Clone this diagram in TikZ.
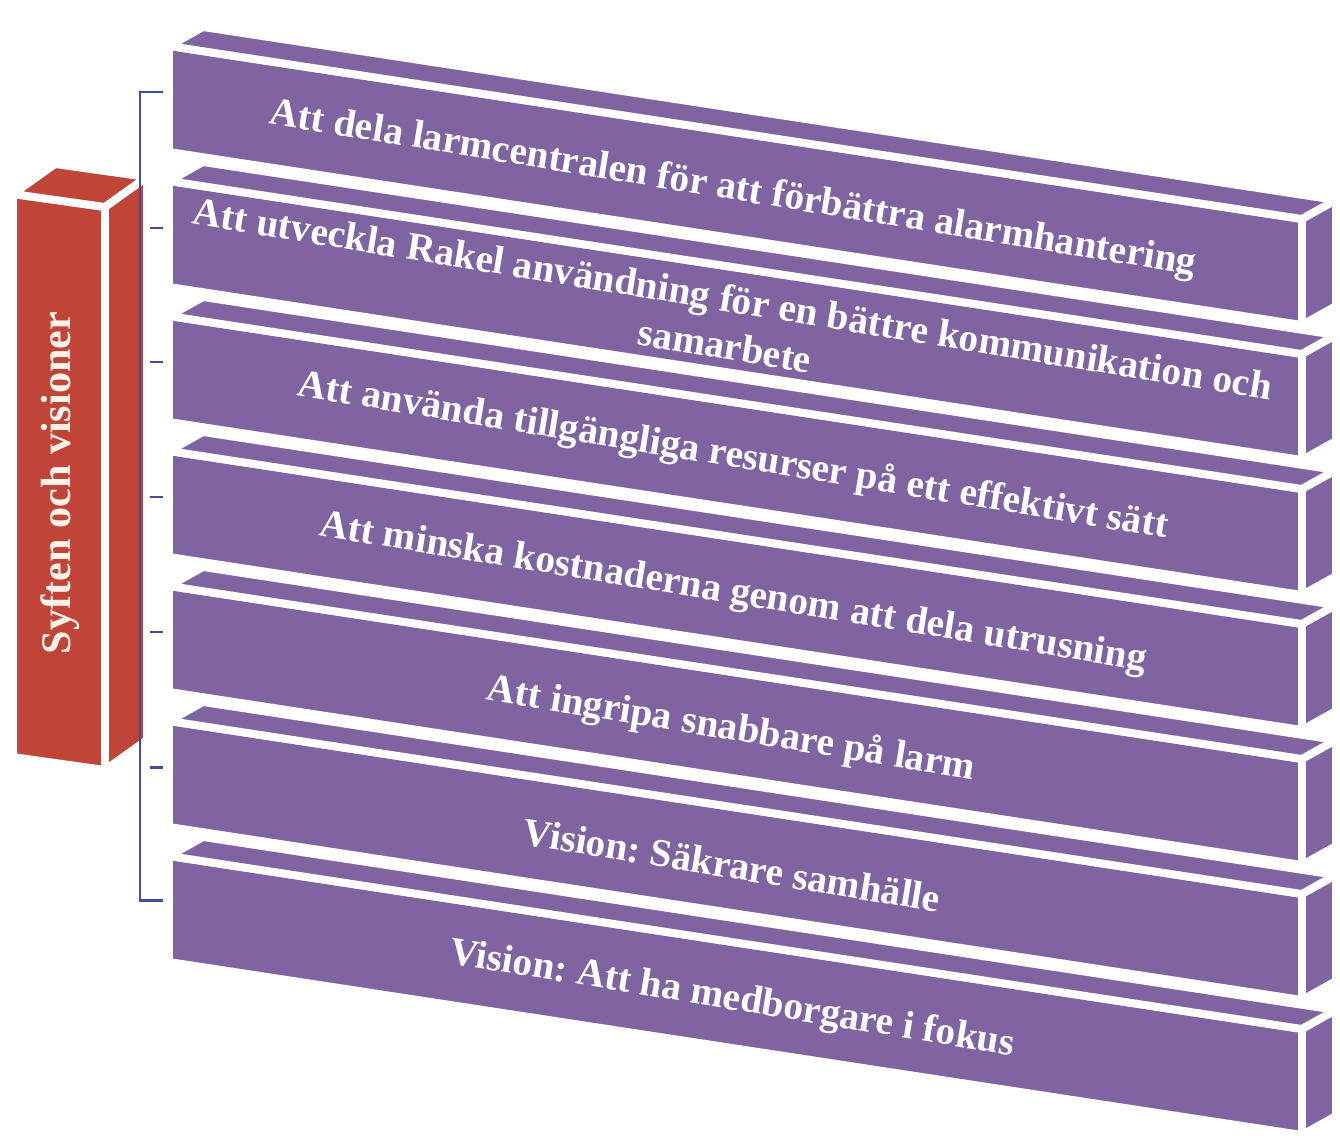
\documentclass[tikz,border=0pt]{standalone}
\usepackage{fontspec}
\setmainfont{Liberation Serif}
\usepackage{tikz}
\definecolor{lila}{RGB}{128,100,162}
\definecolor{roed}{RGB}{192,68,56}
\definecolor{klammer}{RGB}{68,74,160}
\frenchspacing

\begin{document}
\begin{tikzpicture}[x=0.02cm, y=-0.02cm,
        block/.style={fill=lila, draw=white, line width=4.5pt, line join=round},
        pelare/.style={fill=roed, draw=white, line width=4.5pt, line join=round},
        main/.style={text=white, font=\bfseries\fontsize{22.4}{27}\selectfont, rotate=-9.3, align=center, inner sep=0pt}]
    \useasboundingbox (0,0) rectangle (1340,1136);
    % staplade block, nedersta forst
    \foreach \i in {6,5,...,0} {
        \pgfmathsetmacro\yy{46+135*\i}
        \draw[block] (169,\yy) -- ++(1133,173) -- ++(0,106) -- ++(-1133,-173) -- cycle;
        \draw[block] (169,\yy) -- ++(1133,173) -- ++(34,-19) -- ++(-1133,-173) -- cycle;
        \draw[block] (1302,\yy+173) -- ++(0,106) -- ++(34,-19) -- ++(0,-106) -- cycle;
    }
    % rod pelare
    \draw[pelare] (13,194) -- (105,207) -- (105,770) -- (13,757) -- cycle;
    \draw[pelare] (13,194) -- (105,207) -- (147,177) -- (55,164) -- cycle;
    \draw[pelare] (105,207) -- (105,770) -- (147,740) -- (147,177) -- cycle;
    \node[text={rgb,255:red,255;green,242;blue,232}, font=\bfseries\fontsize{24}{28}\selectfont, rotate=90, inner sep=0pt] (8) at (60,483) {Syften och visioner};
    % klammer
    \draw[klammer, line width=1.7pt] (163,92) -- (140,92) -- (140,900) -- (163,900);
    \foreach \t in {228,362,497,632,767}
        \draw[klammer, line width=1.7pt] (150,\t) -- (163,\t);
    % texter
    \node[main] (1) at (733,190) {Att dela larmcentralen för att förbättra alarmhantering};
    \node[main] (2) at (729,322) {Att utveckla Rakel användning för en bättre kommunikation och\\samarbete};
    \node[main] (3) at (733,457) {Att använda tillgängliga resurser på ett effektivt sätt};
    \node[main] (4) at (733,594) {Att minska kostnaderna genom att dela utrusning};
    \node[main] (5) at (731,730) {Att ingripa snabbare på larm};
    \node[main] (6) at (732,865) {Vision: Säkrare samhälle};
    \node[main] (7) at (732,1000) {Vision: Att ha medborgare i fokus};
\end{tikzpicture}
\end{document}
